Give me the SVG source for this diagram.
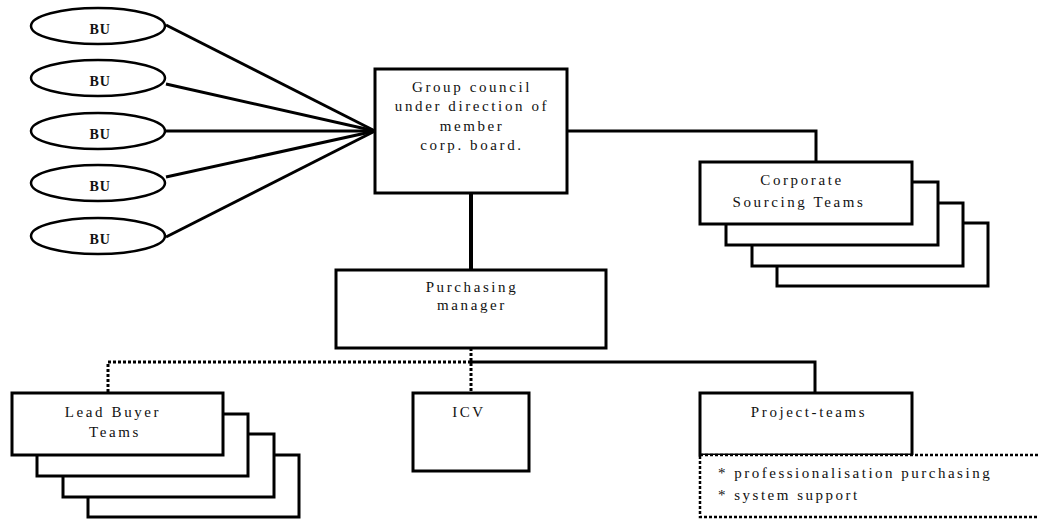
<svg xmlns="http://www.w3.org/2000/svg" width="1039" height="519" viewBox="0 0 1039 519">
  <style>
    .box { fill: #fff; stroke: #000; stroke-width: 3; }
    .bu { fill: #fff; stroke: #000; stroke-width: 2.5; }
    .ln { fill: none; stroke: #000; stroke-width: 3; }
    .dot { fill: none; stroke: #000; stroke-width: 3; stroke-dasharray: 3 2; }
    .dotbox { fill: #fff; stroke: #000; stroke-width: 2.5; stroke-dasharray: 3 2; }
    .t { font-family: "Liberation Serif", "Times New Roman", serif; font-size: 15px; letter-spacing: 2.6px; fill: #111; text-anchor: middle; }
    .tl { font-family: "Liberation Serif", "Times New Roman", serif; font-size: 15px; letter-spacing: 2.5px; fill: #111; }
    .tb { font-family: "Liberation Serif", "Times New Roman", serif; font-size: 14px; font-weight: bold; letter-spacing: -1.3px; fill: #111; text-anchor: middle; }
  </style>

  <!-- connectors -->
  <g id="connectors">
    <!-- business units to group council -->
    <line class="ln" x1="166" y1="25" x2="375" y2="131"/>
    <line class="ln" x1="166" y1="84" x2="375" y2="131"/>
    <line class="ln" x1="166" y1="131" x2="375" y2="131"/>
    <line class="ln" x1="166" y1="177" x2="375" y2="131"/>
    <line class="ln" x1="166" y1="237" x2="375" y2="131"/>
    <!-- group council to corporate sourcing teams -->
    <polyline class="ln" points="567,131 816,131 816,162"/>
    <!-- group council to purchasing manager -->
    <line class="ln" x1="471" y1="193" x2="471" y2="270" style="stroke-width:4"/>
    <!-- purchasing manager down to the team bus -->
    <line class="dot" x1="471" y1="348" x2="471" y2="393"/>
    <polyline class="dot" points="471,362 108,362 108,393"/>
    <polyline class="ln" points="471,362 815,362 815,393"/>
  </g>

  <!-- business units -->
  <g id="bu1"><ellipse class="bu" cx="98" cy="26" rx="67" ry="18"/><text class="tb" x="99" y="34">B U</text></g>
  <g id="bu2"><ellipse class="bu" cx="98" cy="78" rx="67" ry="18"/><text class="tb" x="99" y="86">B U</text></g>
  <g id="bu3"><ellipse class="bu" cx="98" cy="131" rx="67" ry="18"/><text class="tb" x="99" y="139">B U</text></g>
  <g id="bu4"><ellipse class="bu" cx="98" cy="183" rx="67" ry="18"/><text class="tb" x="99" y="191">B U</text></g>
  <g id="bu5"><ellipse class="bu" cx="98" cy="236" rx="67" ry="18"/><text class="tb" x="99" y="244">B U</text></g>

  <!-- group council -->
  <g id="group-council">
    <rect class="box" x="375" y="69" width="192" height="124"/>
    <text class="t" x="472" y="92">Group council</text>
    <text class="t" x="472" y="111">under direction of</text>
    <text class="t" x="472" y="131">member</text>
    <text class="t" x="472" y="150">corp. board.</text>
  </g>

  <!-- corporate sourcing teams (stacked) -->
  <g id="corporate-sourcing-teams">
    <rect class="box" x="777" y="223" width="211" height="63"/>
    <rect class="box" x="752" y="203" width="211" height="63"/>
    <rect class="box" x="726" y="182" width="212" height="63"/>
    <rect class="box" x="700" y="162" width="212" height="62"/>
    <text class="t" x="802" y="185">Corporate</text>
    <text class="t" x="799" y="207">Sourcing Teams</text>
  </g>

  <!-- purchasing manager -->
  <g id="purchasing-manager">
    <rect class="box" x="336" y="270" width="270" height="78"/>
    <text class="t" x="472" y="292">Purchasing</text>
    <text class="t" x="472" y="310">manager</text>
  </g>

  <!-- lead buyer teams (stacked) -->
  <g id="lead-buyer-teams">
    <rect class="box" x="88" y="455" width="211" height="62"/>
    <rect class="box" x="63" y="434" width="211" height="63"/>
    <rect class="box" x="37" y="414" width="211" height="62"/>
    <rect class="box" x="12" y="393" width="211" height="62"/>
    <text class="t" x="113" y="417">Lead Buyer</text>
    <text class="t" x="115" y="437">Teams</text>
  </g>

  <!-- ICV -->
  <g id="icv">
    <rect class="box" x="413" y="393" width="116" height="78"/>
    <text class="t" x="469" y="417">ICV</text>
  </g>

  <!-- project teams with task list -->
  <g id="project-teams">
    <rect class="box" x="700" y="393" width="212" height="62"/>
    <text class="t" x="809" y="417">Project-teams</text>
  </g>
  <g id="project-tasks">
    <rect class="dotbox" x="700" y="455" width="345" height="62"/>
    <text class="tl" x="718" y="478">* professionalisation purchasing</text>
    <text class="tl" x="718" y="500">* system support</text>
  </g>
</svg>
